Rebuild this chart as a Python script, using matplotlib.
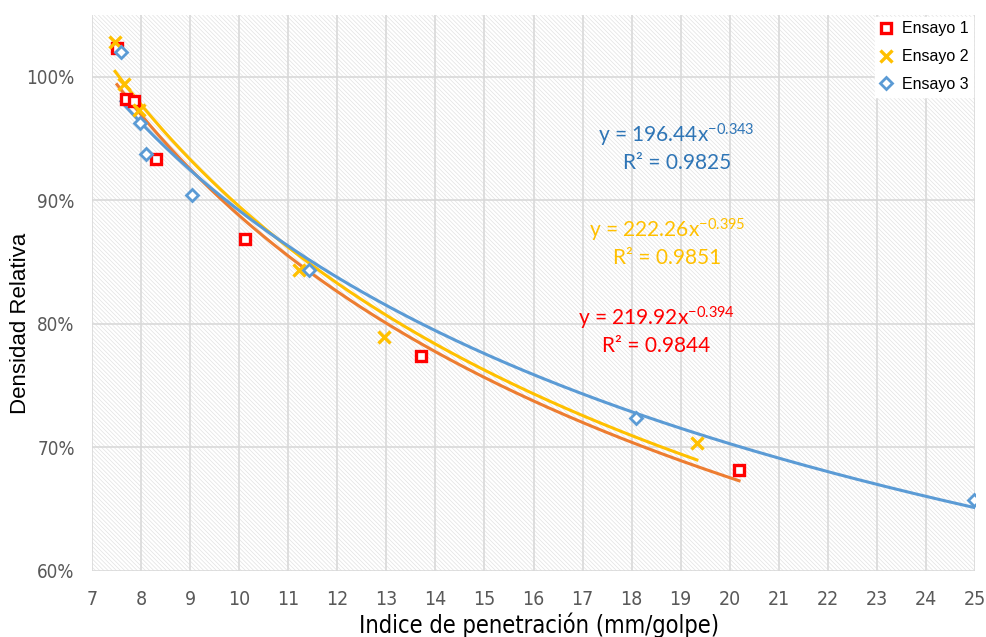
import numpy as np
import matplotlib
matplotlib.use("Agg")
import matplotlib.pyplot as plt
from matplotlib import font_manager as fm
from matplotlib.patches import Rectangle
from matplotlib.ticker import FuncFormatter, MultipleLocator

plt.rcParams['mathtext.fontset'] = 'custom'
plt.rcParams['mathtext.rm'] = 'Lato'
plt.rcParams['mathtext.it'] = 'Lato'
plt.rcParams['mathtext.default'] = 'regular'
plt.rcParams['hatch.linewidth'] = 0.5

narrow_path = fm.findfont(fm.FontProperties(family='DejaVu Sans', stretch='condensed'))

# Data (x: mm/golpe, y: % densidad relativa)
e1_x = [7.51, 7.70, 7.86, 8.31, 10.11, 13.71, 20.19]
e1_y = [102.3, 98.2, 98.05, 93.35, 86.86, 77.4, 68.2]
e2_x = [7.47, 7.65, 7.96, 11.21, 12.95, 19.33]
e2_y = [102.84, 99.43, 97.3, 84.34, 78.9, 70.4]
e3_x = [7.59, 7.98, 8.10, 9.04, 11.42, 18.08, 24.98]
e3_y = [102.03, 96.27, 93.75, 90.43, 84.34, 72.41, 65.76]

fit1 = (219.92, -0.394, 0.9844)
fit2 = (222.26, -0.395, 0.9851)
fit3 = (196.44, -0.343, 0.9825)

labels = ['Ensayo 1', 'Ensayo 2', 'Ensayo 3']
mk_colors = ['#FF0000', '#FFC000', '#5B9BD5']
line_colors = ['#ED7D31', '#FFC000', '#5B9BD5']
eq_colors = ['#FF0000', '#FFC000', '#2E75B6']

fig = plt.figure(figsize=(9.87, 6.37), dpi=100)
ax = fig.add_axes([92/987, 66/637, (975-92)/987, (571-15)/637])
ax.set_facecolor('white')
ax.add_patch(Rectangle((0, 0), 1, 1, transform=ax.transAxes, facecolor='white',
                       edgecolor='#e2e2e2', hatch='\\' * 8, lw=0, zorder=0))

series = [(e1_x, e1_y, fit1), (e2_x, e2_y, fit2), (e3_x, e3_y, fit3)]
for i, (xs, ys, (a, b, r2)) in enumerate(series):
    xx = np.linspace(min(xs), max(xs), 300)
    ax.plot(xx, a * xx ** b, color=line_colors[i], lw=2.2, zorder=3)

ax.plot(e1_x, e1_y, ls='none', marker='s', ms=7.5, mfc='white', mec=mk_colors[0], mew=2.4,
        label=labels[0], zorder=4)
ax.plot(e2_x, e2_y, ls='none', marker='x', ms=8, mec=mk_colors[1], mew=2.4,
        label=labels[1], zorder=4)
ax.plot(e3_x, e3_y, ls='none', marker='D', ms=6, mfc='white', mec=mk_colors[2], mew=2.0,
        label=labels[2], zorder=4)

eq_pos = [(18.5, 79.5), (18.72, 86.6), (18.92, 94.3)]
for i, (xs, ys, (a, b, r2)) in enumerate(series):
    txt = f"y = {a:.2f}x$^{{{b:.3f}}}$\nR² = {r2:.4f}"
    ax.text(eq_pos[i][0], eq_pos[i][1], txt, color=eq_colors[i], fontsize=15,
            family='Lato', ha='center', va='center', linespacing=1.25, zorder=5)

ax.set_xlim(7, 25)
ax.set_ylim(60, 105)
ax.xaxis.set_major_locator(MultipleLocator(1))
ax.set_yticks([60, 70, 80, 90, 100])
ax.yaxis.set_major_formatter(FuncFormatter(lambda v, p: f"{v:.0f}%"))
ax.grid(True, color='#d9d9d9', lw=1.2)
ax.set_axisbelow(True)
for s in ax.spines.values():
    s.set_visible(False)
ax.tick_params(length=0, labelcolor='#595959')
ax.tick_params(axis='y', pad=12.5)
ax.tick_params(axis='x', pad=14)
for lab in ax.get_xticklabels():
    lab.set_fontproperties(fm.FontProperties(fname=narrow_path, size=14))
for lab in ax.get_yticklabels():
    lab.set_fontproperties(fm.FontProperties(fname=narrow_path, size=13.5))

ax.set_xlabel('Indice de penetración (mm/golpe)', fontproperties=fm.FontProperties(fname=narrow_path, size=17))
ax.xaxis.set_label_coords((539 - 92) / 883, (571 - 625) / 556)
ax.xaxis.label.set_verticalalignment('center')
ax.set_ylabel('Densidad Relativa', fontsize=16, family='Liberation Sans')
ax.yaxis.set_label_coords((20 - 92) / 883, (571 - 323) / 556)
ax.yaxis.label.set_verticalalignment('center')

ax.legend(loc='upper right', bbox_to_anchor=(1.0, 1.0),
          prop={'family': 'Liberation Sans', 'size': 11.5},
          frameon=True, fancybox=False, framealpha=1, edgecolor='white',
          handlelength=0.8, handletextpad=0.6, borderpad=0.3, labelspacing=0.8,
          borderaxespad=0.1)

fig.savefig('out.png', dpi=100)
